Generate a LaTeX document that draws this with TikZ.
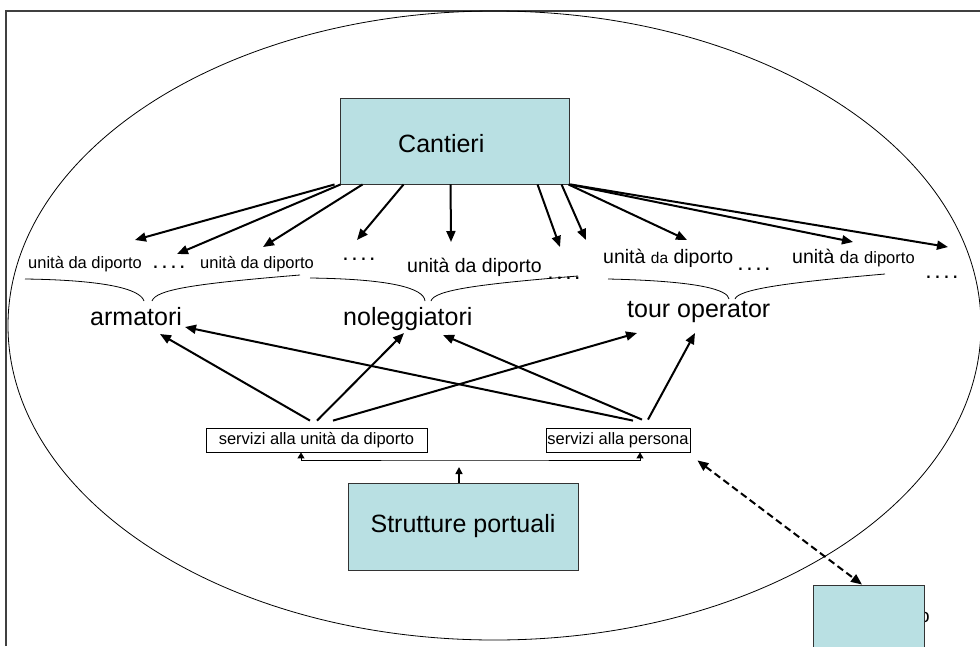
\documentclass[tikz,border=0pt]{standalone}
\usepackage{fontspec}
\setmainfont{Liberation Sans}
\usetikzlibrary{arrows.meta}
\definecolor{portblue}{RGB}{185,224,227}

\newcommand{\fourdots}{.\kern2.5pt.\kern2.5pt.\kern2.5pt.}

\tikzset{
  bluebox/.style={draw=black!80, fill=portblue, line width=0.9pt, inner sep=0pt},
  servbox/.style={draw=black, fill=white, line width=0.8pt, inner sep=0pt,
    font=\fontsize{16.5}{18}\selectfont},
  bigtxt/.style={inner sep=0pt, font=\fontsize{25}{30}\selectfont},
  unitxt/.style={inner sep=0pt, anchor=base west, font=\fontsize{16.5}{18}\selectfont},
  dottxt/.style={inner sep=0pt, anchor=base, font=\fontsize{23}{24}\selectfont},
  arr/.style={line width=2pt, -{Triangle[length=11pt,width=9pt]}},
  dasharr/.style={line width=2pt, dash pattern=on 7pt off 4pt,
    {Triangle[length=11pt,width=9pt]}-{Triangle[length=11pt,width=9pt]}},
  bus/.style={line width=0.9pt,
    {Triangle[length=6pt,width=7pt]}-{Triangle[length=6pt,width=7pt]}},
  brace/.style={line width=0.8pt}
}

\begin{document}
\begin{tikzpicture}[x=1pt, y=-1pt]
    \useasboundingbox (0,0) rectangle (980,646);
    % frame and ellipse
    \draw[black!75, line width=1.2pt] (6,646) -- (6,11) -- (980,11);
    \draw[line width=0.8pt] (494.5,325.5) ellipse [x radius=486.5pt, y radius=314.5pt];

    % main boxes
    \node[bluebox, minimum width=229pt, minimum height=86pt] (cantieri) at (454.5,141) {};
    \node[bigtxt, anchor=base west] (cantlabel) at (398,152) {Cantieri};
    \node[bluebox, minimum width=230pt, minimum height=87pt, font=\fontsize{25}{30}\selectfont]
      (strutture) at (463,526.5) {Strutture portuali};
    \node[inner sep=0pt, anchor=base west, font=\fontsize{19}{20}\selectfont] (hidden) at (919,622) {o};
    \node[bluebox, minimum width=111pt, minimum height=75pt] (smallbox) at (868.5,622.5) {};

    % unita da diporto
    \node[unitxt] (unita1) at (28,268) {unità da diporto};
    \node[unitxt] (unita2) at (200,268) {unità da diporto};
    \node[unitxt, font=\fontsize{19.5}{20}\selectfont] (unita3) at (407,272) {unità da diporto};
    \node[unitxt, font=\fontsize{19.5}{20}\selectfont] (unita4) at (603,263)
      {unità {\fontsize{15.5}{16}\selectfont da} diporto};
    \node[unitxt, font=\fontsize{19.5}{20}\selectfont] (unita5) at (792,263)
      {unità {\fontsize{17}{18}\selectfont da} {\fontsize{16.5}{18}\selectfont diporto}};
    \node[dottxt] (dots1) at (169,268) {\fourdots};
    \node[dottxt] (dots2) at (359,260) {\fourdots};
    \node[dottxt] (dots3) at (564,279) {\fourdots};
    \node[dottxt] (dots4) at (754,270) {\fourdots};
    \node[dottxt] (dots5) at (942,278) {\fourdots};

    % braces
    \draw[brace] (25,279) .. controls (100,280) and (140,288) .. (144,301);
    \draw[brace] (152,301) .. controls (156,290) and (190,284) .. (300,275);
    \draw[brace] (310,278) .. controls (390,279) and (424,288) .. (425,301);
    \draw[brace] (431,301) .. controls (434,290) and (480,284) .. (578,276);
    \draw[brace] (608,279) .. controls (700,281) and (728,290) .. (729,299);
    \draw[brace] (735,299) .. controls (738,290) and (780,283) .. (885,274);

    % operators
    \node[bigtxt, anchor=base west] (armatori) at (90,325) {armatori};
    \node[bigtxt, anchor=base west] (noleggiatori) at (343,325) {noleggiatori};
    \node[bigtxt, anchor=base west] (tourop) at (627,317) {tour operator};

    % services
    \node[servbox, minimum width=221pt, minimum height=24pt] (servunita) at (316.5,440)
      {servizi alla unità da diporto};
    \node[servbox, minimum width=144pt, minimum height=24pt] (servpersona) at (618,440)
      {servizi alla persona};

    % arrows from Cantieri
    \coordinate (c1) at (135,240);
    \coordinate (c2) at (177,254);
    \coordinate (c3) at (263,247);
    \coordinate (c4) at (357,240);
    \coordinate (c5) at (451,242);
    \coordinate (c6) at (560,247);
    \coordinate (c7) at (586,240);
    \coordinate (c8) at (687,240);
    \coordinate (c9) at (853,242);
    \coordinate (c10) at (948,247);
    \draw[arr] ([xshift=-5pt]cantieri.south west) -- (c1);
    \draw[arr] ([xshift=1pt]cantieri.south west) -- (c2);
    \draw[arr] ([xshift=23pt]cantieri.south west) -- (c3);
    \draw[arr] ([xshift=64pt]cantieri.south west) -- (c4);
    \draw[arr] ([xshift=111pt]cantieri.south west) -- (c5);
    \draw[arr] ([xshift=198pt]cantieri.south west) -- (c6);
    \draw[arr] ([xshift=222pt]cantieri.south west) -- (c7);
    \draw[arr] ([xshift=-1pt]cantieri.south east) -- (c8);
    \draw[arr] ([xshift=0pt]cantieri.south east) -- (c9);
    \draw[arr] ([xshift=1pt]cantieri.south east) -- (c10);

    % arrows from services
    \coordinate (a1) at (160,334);
    \coordinate (a2) at (185,327);
    \coordinate (n1) at (404,333);
    \coordinate (n2) at (443,335);
    \coordinate (t1) at (637,333);
    \coordinate (t2) at (695,333);
    \draw[arr] ([shift={(-6.5pt,7pt)}]servunita.north) -- (a1);
    \draw[arr] ([shift={(0.5pt,7pt)}]servunita.north) -- (n1);
    \draw[arr] ([shift={(16.5pt,7pt)}]servunita.north) -- (t1);
    \draw[arr] ([shift={(15pt,7pt)}]servpersona.north) -- (a2);
    \draw[arr] ([shift={(24pt,8pt)}]servpersona.north) -- (n2);
    \draw[arr] ([shift={(30pt,8pt)}]servpersona.north) -- (t2);

    % Strutture portuali feeding the services
    \coordinate (bus) at (459,460);
    \coordinate (rise) at (459,467);
    \draw[bus] ([xshift=-15.5pt]servunita.south) |- (bus) -| ([xshift=22pt]servpersona.south);
    \draw[line width=1.5pt, -{Triangle[length=7pt,width=7pt]}] ([xshift=-4pt]strutture.north) -- (rise);
    \draw[dasharr] ([shift={(7pt,-8pt)}]servpersona.south east) -- ([xshift=-6.5pt]smallbox.north);
\end{tikzpicture}
\end{document}
